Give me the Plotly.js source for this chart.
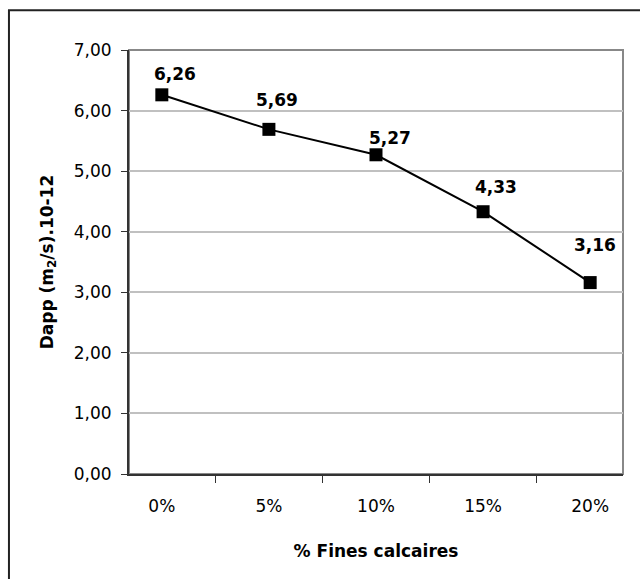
<!DOCTYPE html>
<html>
<head>
<meta charset="utf-8">
<script src="https://cdn.plot.ly/plotly-3.0.1.min.js"></script>
<style>
  html, body { margin: 0; padding: 0; background: #fff; }
  #chart { width: 640px; height: 579px; }
</style>
</head>
<body>
<div id="chart"></div>
<script>
// Data
const categories = ['0%', '5%', '10%', '15%', '20%'];
const dapp = [6.26, 5.69, 5.27, 4.33, 3.16];
const valueLabels = ['6,26', '5,69', '5,27', '4,33', '3,16'];
const yTickVals = [0, 1, 2, 3, 4, 5, 6, 7];
const yTickText = ['0,00', '1,00', '2,00', '3,00', '4,00', '5,00', '6,00', '7,00'];

// Label placement (style only)
const labelDx = [13, 8, 14, 13, 5];
const labelDy = [21, 29, 17, 25, 38];

const FONT = 'DejaVu Sans, Liberation Sans, Arial, sans-serif';

const trace = {
  x: categories,
  y: dapp,
  type: 'scatter',
  mode: 'lines+markers',
  line: { color: '#000000', width: 2 },
  marker: { symbol: 'square', size: 13, color: '#000000' },
  hoverinfo: 'skip',
  cliponaxis: false
};

const annotations = categories.map((c, i) => ({
  x: c, y: dapp[i], xref: 'x', yref: 'y',
  text: '<b>' + valueLabels[i] + '</b>',
  showarrow: false,
  xanchor: 'center', yanchor: 'middle',
  xshift: labelDx[i], yshift: labelDy[i],
  font: { family: FONT, size: 17, color: '#000000' }
}));

const layout = {
  width: 640, height: 579,
  margin: { l: 129, r: 17, t: 50, b: 105, pad: 0 },
  paper_bgcolor: '#ffffff',
  plot_bgcolor: '#ffffff',
  showlegend: false,
  font: { family: FONT, size: 17, color: '#000000' },
  xaxis: {
    type: 'category',
    tickson: 'boundaries',
    ticks: 'outside', ticklen: 7, tickwidth: 1, tickcolor: '#333333',
    ticklabelstandoff: 16,
    showline: true, linecolor: '#333333', linewidth: 2,
    showgrid: false, zeroline: false,
    fixedrange: true,
    tickfont: { family: FONT, size: 17, color: '#000000' },
    title: { text: '<b>% Fines calcaires</b>', standoff: 30,
             font: { family: FONT, size: 17, color: '#000000' } }
  },
  yaxis: {
    range: [0, 7],
    tickvals: yTickVals, ticktext: yTickText,
    ticks: 'outside', ticklen: 6, tickwidth: 1, tickcolor: '#333333',
    ticklabelstandoff: 6,
    showline: true, linecolor: '#333333', linewidth: 2,
    showgrid: true, gridcolor: '#c0c0c0', gridwidth: 2,
    zeroline: false,
    fixedrange: true,
    tickfont: { family: FONT, size: 17, color: '#000000' },
    title: { text: '<b>Dapp (m<sub>2</sub>/s).10-12</b>', standoff: 16,
             font: { family: FONT, size: 17, color: '#000000' } }
  },
  shapes: [
    { type: 'rect', xref: 'paper', yref: 'paper', x0: 0, x1: 1, y0: 0, y1: 1,
      line: { color: '#888888', width: 2 }, fillcolor: 'rgba(0,0,0,0)', layer: 'below' },
    { type: 'rect', xref: 'paper', yref: 'paper', x0: -0.243, x1: 1.2, y0: -0.4, y1: 1.094,
      line: { color: '#222222', width: 2 }, fillcolor: 'rgba(0,0,0,0)', layer: 'above' }
  ],
  annotations: annotations
};

Plotly.newPlot('chart', [trace], layout, { displayModeBar: false, staticPlot: true });
</script>
</body>
</html>
